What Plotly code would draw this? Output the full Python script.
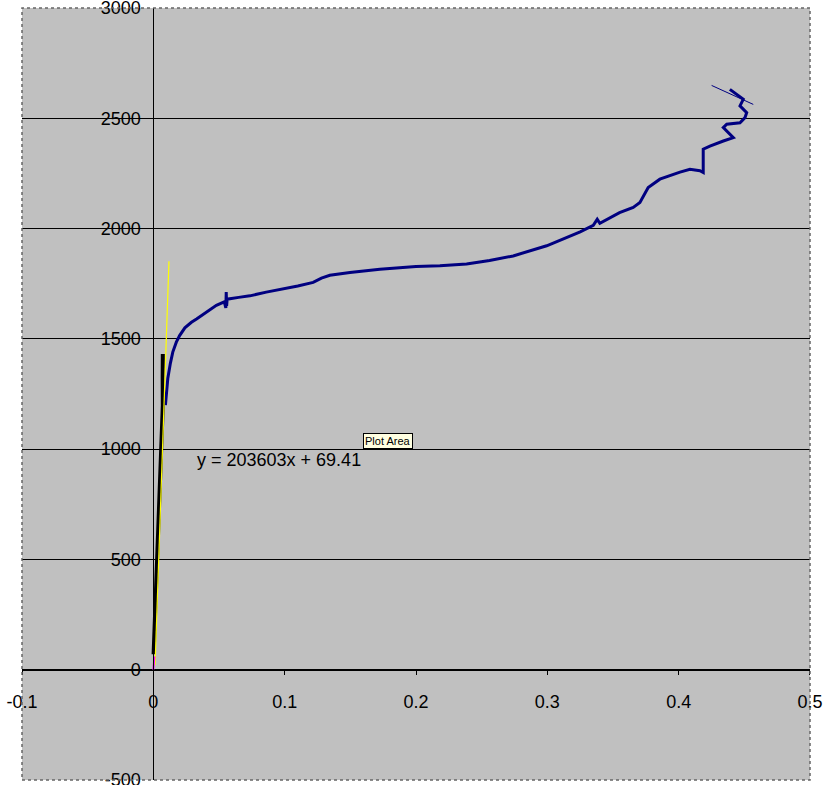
import plotly.graph_objects as go

# Main measured curve (navy)
blue_x = [0.0092, 0.0100, 0.0110, 0.0130, 0.0148, 0.0175, 0.0200, 0.0240, 0.0290, 0.0329,
          0.0380, 0.0430, 0.0480, 0.0540, 0.0552, 0.0555, 0.0558, 0.0562, 0.0650, 0.0735,
          0.0860, 0.0989, 0.1100, 0.1217, 0.1280, 0.1344, 0.1420, 0.1497, 0.1725, 0.2000,
          0.2182, 0.2385, 0.2560, 0.2740, 0.2995, 0.3120, 0.3250, 0.3350, 0.3380, 0.3400,
          0.3550, 0.3654, 0.3705, 0.3768, 0.3857, 0.4010, 0.4086, 0.4162, 0.4187, 0.4187,
          0.4238, 0.4340, 0.4416, 0.4340, 0.4366, 0.4467, 0.4505, 0.4518, 0.4467, 0.4492,
          0.4416, 0.4390]
blue_y = [1200, 1270, 1320, 1390, 1440, 1485, 1515, 1550, 1575, 1590,
          1612, 1633, 1652, 1668, 1640, 1712, 1650, 1680, 1688, 1695,
          1712, 1726, 1740, 1756, 1775, 1788, 1796, 1801, 1816, 1828,
          1831, 1839, 1855, 1876, 1922, 1952, 1985, 2015, 2042, 2024,
          2072, 2096, 2118, 2186, 2224, 2256, 2269, 2262, 2254, 2360,
          2374, 2397, 2412, 2458, 2473, 2480, 2503, 2526, 2556, 2586,
          2617, 2631]

# Thin straight segment at the top of the curve
thin_x = [0.4251, 0.4568]
thin_y = [2649, 2563]

# Elastic-region data (black)
black_x = [0.0002, 0.0004, 0.0012, 0.0019, 0.0027, 0.0035, 0.0044, 0.0057, 0.0066, 0.0072, 0.0071, 0.0072]
black_y = [70, 104, 200, 291, 500, 620, 744, 1000, 1100, 1197, 1320, 1431]

# Linear fit line (yellow)
fit_x = [0.0013, 0.0119]
fit_y = [20, 1852]

# Start segment (magenta)
start_x = [0.0, 0.0008]
start_y = [0, 60]

x_ticks = [-0.1, 0, 0.1, 0.2, 0.3, 0.4, 0.5]
x_labels = ["-0.1", "0", "0.1", "0.2", "0.3", "0.4", "0.5"]
y_ticks = [-500, 0, 500, 1000, 1500, 2000, 2500, 3000]
y_labels = ["-500", "0", "500", "1000", "1500", "2000", "2500", "3000"]

equation = "y = 203603x + 69.41"

fig = go.Figure()
fig.add_trace(go.Scatter(x=blue_x, y=blue_y, mode="lines",
                         line=dict(color="#000080", width=3), showlegend=False))
fig.add_trace(go.Scatter(x=thin_x, y=thin_y, mode="lines",
                         line=dict(color="#000080", width=1), showlegend=False))
fig.add_trace(go.Scatter(x=black_x, y=black_y, mode="lines",
                         line=dict(color="#000000", width=4), showlegend=False))
fig.add_trace(go.Scatter(x=fit_x, y=fit_y, mode="lines",
                         line=dict(color="#FFFF00", width=1.2), showlegend=False))
fig.add_trace(go.Scatter(x=start_x, y=start_y, mode="lines",
                         line=dict(color="#FF00FF", width=2), showlegend=False))

font = dict(family="Liberation Sans, Arial, sans-serif", size=18, color="black")

fig.update_layout(
    width=828, height=785,
    margin=dict(l=22, r=18, t=8, b=5),
    paper_bgcolor="white",
    plot_bgcolor="#C0C0C0",
    font=font,
    xaxis=dict(range=[-0.10001, 0.50001], tickvals=x_ticks, ticktext=x_labels,
               showgrid=False, zeroline=False, showline=True, linecolor="black",
               linewidth=1, ticks="outside", ticklen=4, tickcolor="black",
               anchor="free", position=500 / 3500, ticklabelstandoff=12,
               tickfont=font, automargin=False, ticklabeloverflow="allow"),
    yaxis=dict(range=[-500.05, 3000.05], tickvals=y_ticks, ticktext=y_labels,
               showgrid=True, gridcolor="black", gridwidth=1, zeroline=False,
               showline=True, linecolor="black", linewidth=1, ticks="",
               anchor="free", position=1 / 6, ticklabelstandoff=9,
               tickfont=font, automargin=False, ticklabeloverflow="allow"),
    shapes=[dict(type="rect", xref="paper", yref="paper", x0=0, y0=0, x1=1, y1=1,
                 line=dict(color="#666666", width=1.5, dash="dot"))],
    annotations=[
        dict(x=0.0316, y=951, xref="x", yref="y", text=equation, showarrow=False,
             xanchor="left", yanchor="middle", font=font),
        dict(x=0.1786, y=1039, xref="x", yref="y", text="Plot Area", showarrow=False,
             xanchor="center", yanchor="middle", bgcolor="#FFFFE1", bordercolor="black",
             borderwidth=1, borderpad=1,
             font=dict(family="Liberation Sans, Arial, sans-serif", size=11, color="black")),
    ],
)

fig.write_html("out.html", config={"displayModeBar": False},
               post_script="document.body.style.margin='0';document.body.style.overflow='hidden';")
